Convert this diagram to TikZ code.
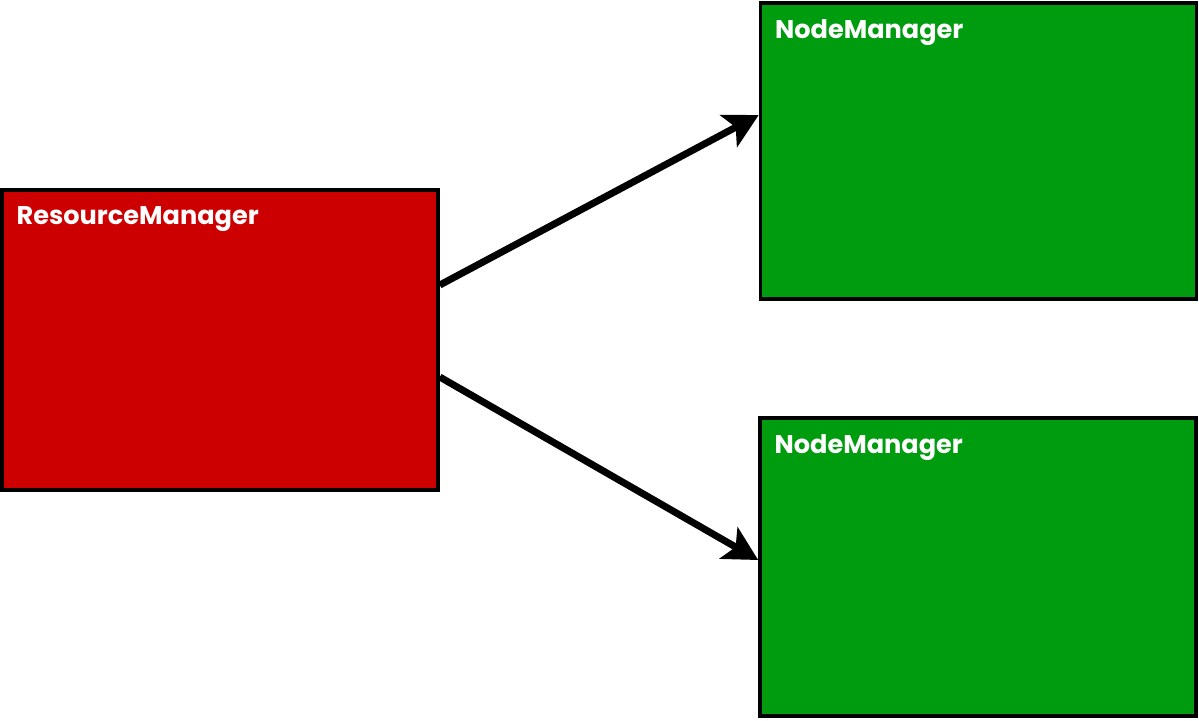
\documentclass[tikz,border=0pt]{standalone}
\usepackage{fontspec}
\setmainfont{Poppins}
\usetikzlibrary{arrows.meta,positioning}
\definecolor{rmred}{RGB}{204,0,0}
\definecolor{nmgreen}{RGB}{0,156,15}
\begin{document}
\begin{tikzpicture}[
        x=0.5pt, y=-0.5pt,
        box/.style={draw=black, line width=1.8pt, rectangle, minimum width=218pt, minimum height=149pt, inner sep=0pt},
        title/.style={text=white, font=\bfseries\fontsize{12.8}{14}\selectfont, inner sep=0pt, anchor=north west},
        rel/.style={->, >={Stealth[length=17pt, width=18pt, inset=4pt]}, line width=3.5pt}
    ]
        \useasboundingbox (0,0) rectangle (1199,720);
        \node[box, fill=rmred, minimum height=150pt] (rm) at (220,340) {};
        \node[box, fill=nmgreen, minimum height=148pt] (nmtop) at (978.5,151) {};
        \node[box, fill=nmgreen] (nmbot) at (978,567) {};

        \node[title, below right=9pt and 8pt of rm.north west] (rmtitle) {ResourceManager};
        \node[title, below right=9pt and 8pt of nmtop.north west] (nmtoptitle) {NodeManager};
        \node[title, below right=9pt and 8pt of nmbot.north west] (nmbottitle) {NodeManager};

        \draw[rel] ([yshift=27.5pt]rm.east) -- ([yshift=18pt]nmtop.west);
        \draw[rel] ([yshift=-18.5pt]rm.east) -- ([yshift=3.5pt]nmbot.west);
    \end{tikzpicture}
\end{document}
